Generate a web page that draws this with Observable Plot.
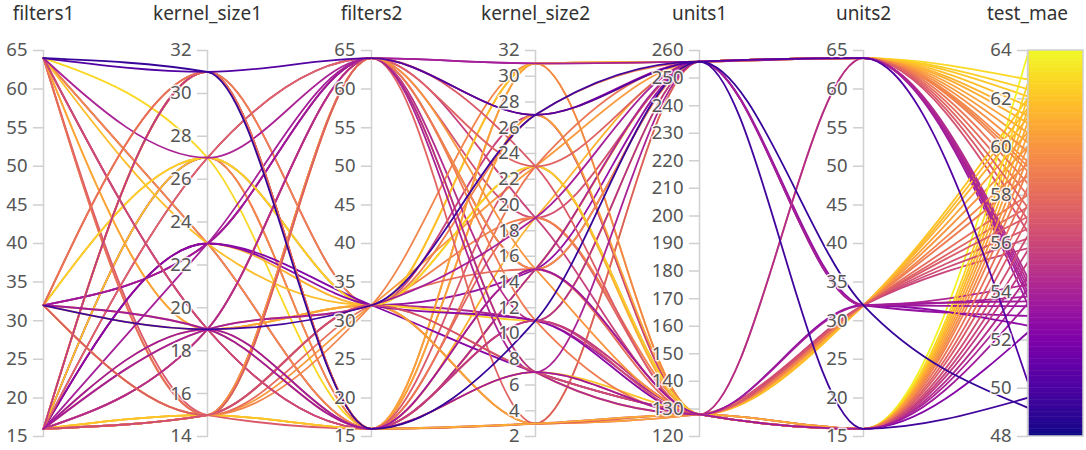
<!DOCTYPE html>
<html>
<head>
<meta charset="utf-8">
<script src="https://cdn.jsdelivr.net/npm/d3@7"></script>
<script src="https://cdn.jsdelivr.net/npm/@observablehq/plot@0.6"></script>
<style>
  html, body { margin: 0; padding: 0; background: #fff; }
  #chart svg { display: block; }
</style>
</head>
<body>
<div id="chart"></div>
<script>
// Hyperparameter sweep: one polyline per run across the parallel axes.
const dims = ["filters1", "kernel_size1", "filters2", "kernel_size2", "units1", "units2", "test_mae"];

const filters1 = [16,16,32,16,64,16,32,16,64, 16,16,32,16,64,16,32,16,64,16,
                  32,64,16,32,16,32,16,64,16, 32,16,64,16,32,16,64,16,32,16,
                  64,16,32,16,16,16,16,64,16, 32,16,64,16,32,16,64,16,32,16,
                  64,16,32,16, 64,64,32];
const kernel_size1 = [27,23,23,19,27,19,31,15,19, 31,31,27,15,15,19,15,31,23,15,
                      19,27,19,15,27,23,19,23,23, 19,31,19,15,15,27,15,19,31,15,
                      19,23,15,27,23,19,15,19,31, 23,15,15,27,31,19,23,15,19,31,
                      19,15,27,15, 31,31,19];
const filters2 = [64,64,64,64,64,64,16,64,16, 16,32,16,64,32,16,64,16,32,16,
                  32,16,64,32,32,64,32,16,32, 16,32,16,32,64,16,32,64,16,16,
                  32,32,64,32,32,16,32,16,16, 64,32,16,64,16,32,16,64,16,16,
                  32,16,32,32, 64,16,32];
const kernel_size2 = [31,31,15,11,7,19,3,23,15, 23,27,31,15,23,31,27,19,31,15,
                      11,3,7,31,15,27,19,15,11, 7,27,11,3,23,19,15,11,7,27,
                      3,23,7,31,7,15,11,3,11, 19,7,23,3,15,19,11,15,27,3,
                      7,7,23,3, 27,11,27];
const units1 = [256,256,256,256,256,256,256,256,256, 256,256,256,256,256,256,256,256,256,256,
                256,256,128,128,256,256,256,256,128, 128,128,128,128,128,128,128,128,128,128,
                128,128,128,128,128,128,128,128,128, 128,128,128,128,128,128,128,128,128,128,
                128,128,128,128, 256,256,256];
const units2 = [64,64,64,64,64,64,64,64,64, 64,64,64,64,64,64,64,64,64,64,
                64,64,64,64,32,32,32,32,32, 32,32,32,32,32,32,32,32,32,32,
                32,32,32,32,16,16,16,16,16, 16,16,16,16,16,16,16,16,16,16,
                16,16,16,16, 64,32,16];
const test_mae = [53.5,53.8,54.2,54.6,54.0,56.5,57.0,57.5,58.0, 58.5,59.0,59.4,59.8,60.2,60.6,61.0,61.3,61.7,62.1,
                  62.4,62.8,54.4,59.2,53.0,53.4,53.8,54.3,52.6, 53.6,55.8,56.2,56.6,57.1,57.5,58.0,58.8,59.3,60.0,
                  60.6,61.2,61.6,62.0,52.3,53.5,54.1,54.6,55.2, 55.7,56.3,57.0,57.6,58.3,59.0,59.5,60.0,60.5,61.0,
                  61.5,62.0,62.6,63.8, 50.3,49.2,49.6];

// Order in which the runs finished (later runs are drawn on top)
const drawOrder = [8,20,13,0,37,18,5,44,15,57, 29,10,60,2,33,52,23,16,39,6,
                   47,11,55,26,19,31,41,3,14,49, 42,58,34,22,9,53,24,17,38,45,
                   12,59,27,35,7,50,1,40,30,56, 25,21,36,46,4,54,48,32,28,51,
                   43,61,62,63];

// Axis tick values (the first and last tick give each axis its extent)
const filterTicks  = [15,20,25,30,35,40,45,50,55,60,65];
const kernel1Ticks = [14,16,18,20,22,24,26,28,30,32];
const kernel2Ticks = [2,4,6,8,10,12,14,16,18,20,22,24,26,28,30,32];
const units1Ticks  = [120,130,140,150,160,170,180,190,200,210,220,230,240,250,260];
const units2Ticks  = [15,20,25,30,35,40,45,50,55,60,65];
const maeTicks     = [48,50,52,54,56,58,60,62,64];

const columns = {filters1, kernel_size1, filters2, kernel_size2, units1, units2, test_mae};
const ticks = {
  filters1: filterTicks, kernel_size1: kernel1Ticks, filters2: filterTicks,
  kernel_size2: kernel2Ticks, units1: units1Ticks, units2: units2Ticks, test_mae: maeTicks
};

// Each axis gets its own linear scale onto a shared 0–1 position.
const norm = {};
for (const d of dims) norm[d] = d3.scaleLinear().domain(d3.extent(ticks[d])).range([0, 1]);

// Long table of run × dimension
const rows = drawOrder.flatMap(i =>
  dims.map(d => ({run: i, dim: d, pos: norm[d](columns[d][i]), mae: test_mae[i]})));

const tickRows = dims.flatMap(d => ticks[d].map(t => ({dim: d, pos: norm[d](t), label: String(t)})));

// Colour bar strips beside the test_mae axis
const maeDomain = d3.extent(maeTicks);
const step = 0.1;
const barRows = d3.range(maeDomain[0], maeDomain[1], step).map(v => ({
  dim: "test_mae", lo: norm.test_mae(v), hi: norm.test_mae(Math.min(v + step * 1.2, maeDomain[1])), v: v + step / 2
}));

const tickShape = {draw(context, length) { context.moveTo(0, 0); context.lineTo(0, -length); }};

const chart = Plot.plot({
  width: 1086,
  height: 450,
  marginTop: 0, marginRight: 0, marginBottom: 0, marginLeft: 0,
  style: {fontFamily: "'Noto Sans', sans-serif", background: "#fff"},
  x: {type: "point", domain: dims, range: [41.5, 1027.5], padding: 0, axis: null},
  y: {domain: [0, 1], range: [436, 50], axis: null},
  color: {type: "linear", scheme: "plasma", domain: maeDomain},
  marks: [
    Plot.ruleX(dims, {x: d => d, y1: 0, y2: 1, stroke: "#d0d0d0", strokeWidth: 1.5}),
    Plot.vector(tickRows, {x: "dim", y: "pos", length: 10, rotate: -90, anchor: "start",
      shape: tickShape, stroke: "#d0d0d0", strokeWidth: 1.5}),
    Plot.line(rows, {x: "dim", y: "pos", z: "run", stroke: "mae", curve: "monotone-x", strokeWidth: 1.8}),
    Plot.rect(barRows, {x1: "dim", x2: "dim", y1: "lo", y2: "hi", fill: "v", insetLeft: 1, insetRight: -56}),
    Plot.rect(["test_mae"], {x1: d => d, x2: d => d, y1: 0, y2: 1, insetLeft: 1, insetRight: -56,
      fill: "none", stroke: "#d0d0d0", strokeWidth: 1.5}),
    Plot.text(tickRows, {x: "dim", y: "pos", text: "label", textAnchor: "end", dx: -16,
      fill: "#555", stroke: "white", strokeWidth: 3, strokeOpacity: 0.85, fontSize: 18.5}),
    Plot.text(dims, {x: d => d, text: d => d, frameAnchor: "top", dy: 6,
      fill: "#333", fontSize: 19})
  ]
});

document.getElementById("chart").appendChild(chart);
</script>
</body>
</html>
